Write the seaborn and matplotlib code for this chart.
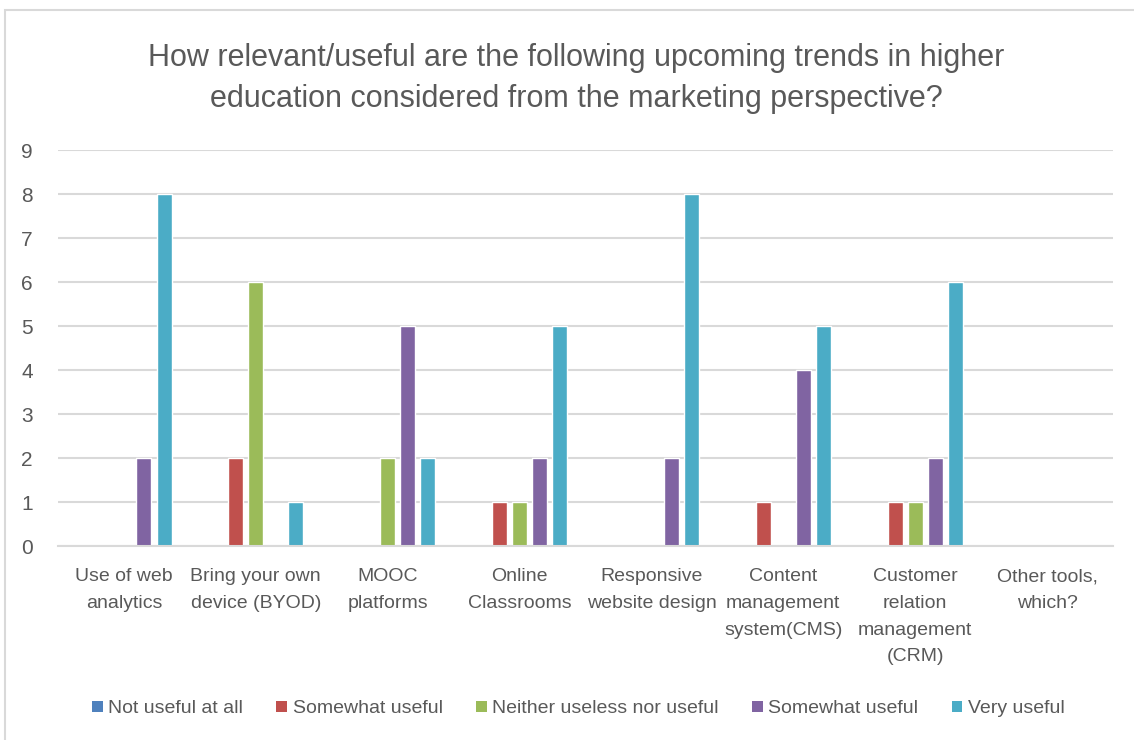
import numpy as np
import pandas as pd
import matplotlib
matplotlib.use("Agg")
import matplotlib.pyplot as plt
import seaborn as sns
from matplotlib.patches import Rectangle, Patch

categories = ["Use of web\nanalytics", "Bring your own\ndevice (BYOD)", "MOOC\nplatforms",
              "Online\nClassrooms", "Responsive\nwebsite design",
              "Content\nmanagement\nsystem(CMS)", "Customer\nrelation\nmanagement\n(CRM)",
              "Other tools,\nwhich?"]
series_names = ["Not useful at all", "Somewhat useful", "Neither useless nor useful",
                "Somewhat useful", "Very useful"]
not_useful = [0, 0, 0, 0, 0, 0, 0, 0]
somewhat_useless = [0, 2, 0, 1, 0, 1, 1, 0]
neither = [0, 6, 2, 1, 0, 0, 1, 0]
somewhat_useful = [2, 0, 5, 2, 2, 4, 2, 0]
very_useful = [8, 1, 2, 5, 8, 5, 6, 0]
colors = ["#4F81BD", "#C0504D", "#9BBB59", "#8064A2", "#4BACC6"]

title = ("How relevant/useful are the following upcoming trends in higher\n"
         "education considered from the marketing perspective?")

all_series = [not_useful, somewhat_useless, neither, somewhat_useful, very_useful]
rows = []
for s_idx, vals in enumerate(all_series):
    for cat, v in zip(categories, vals):
        rows.append({"category": cat, "series": s_idx, "value": v})
df = pd.DataFrame(rows)

sns.set_theme(style="white")
plt.rcParams["font.family"] = ["Liberation Sans", "DejaVu Sans"]
text_col = "#595959"

fig = plt.figure(figsize=(11.34, 7.4), dpi=100)
ax = fig.add_axes([58 / 1134, 1 - 546 / 740, (1113 - 58) / 1134, (546 - 150) / 740])

sns.barplot(data=df, x="category", y="value", hue="series", palette=colors,
            width=0.76, gap=0.25, ax=ax, legend=False, saturation=1)

ax.set_ylim(0, 9)
ax.set_xlim(-0.5, len(categories) - 0.5)
ax.set_yticks(range(0, 10))
ax.yaxis.grid(True, color="#D9D9D9", linewidth=1.5)
ax.set_axisbelow(True)
for side in ["left", "right", "top"]:
    ax.spines[side].set_visible(False)
ax.spines["bottom"].set_color("#D9D9D9")
ax.spines["bottom"].set_linewidth(1.5)
ax.set_xlabel("")
ax.set_ylabel("")
ax.tick_params(axis="y", length=0, pad=18, labelsize=15, labelcolor=text_col)
ax.tick_params(axis="x", length=0, pad=16, labelsize=14, labelcolor=text_col)
for lbl in ax.get_xticklabels():
    lbl.set_linespacing(1.75)
    lbl.set_va("top")

fig.text(0.508, 0.894, title, ha="center", va="center", fontsize=22,
         color=text_col, linespacing=1.45)

handles = [Patch(facecolor=c, edgecolor="none") for c in colors]
fig.legend(handles, series_names, loc="center", bbox_to_anchor=(0.51, 0.042),
           ncol=5, frameon=False, fontsize=14, labelcolor=text_col,
           handlelength=0.55, handleheight=0.55, handletextpad=0.3, columnspacing=1.7)

fig.patches.append(Rectangle((5 / 1134, -0.05), 1.1, 1 - 10 / 740 + 0.05,
                             transform=fig.transFigure, fill=False,
                             edgecolor="#D9D9D9", linewidth=1.5))

fig.savefig("out.png", dpi=100)
